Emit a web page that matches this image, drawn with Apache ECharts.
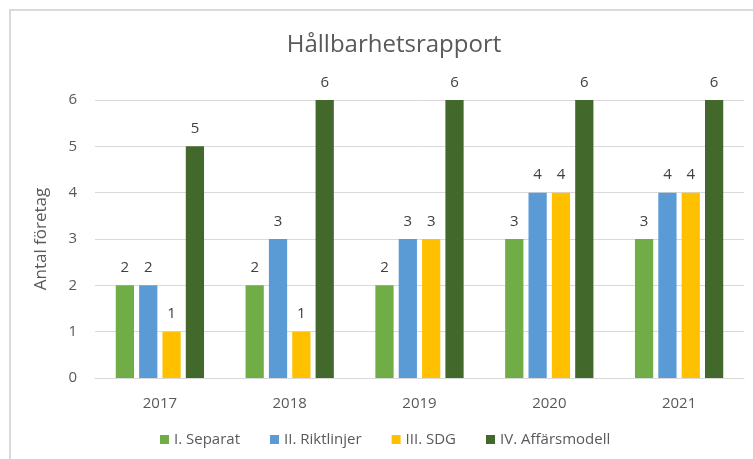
<!DOCTYPE html>
<html>
<head>
<meta charset="utf-8">
<script src="https://cdn.jsdelivr.net/npm/echarts@6/dist/echarts.min.js"></script>
<style>
  html, body { margin: 0; padding: 0; background: #fff; }
  #frame { position: absolute; left: 9px; top: 9px; width: 760px; height: 460px; border: 2px solid #d9d9d9; box-sizing: border-box; }
  #myChart { position: absolute; left: 0; top: 0; width: 753px; height: 459px; }
</style>
</head>
<body>
<div id="frame"></div>
<div id="myChart"></div>
<script>
var years = ['2017', '2018', '2019', '2020', '2021'];
var separat = [2, 2, 2, 3, 3];
var riktlinjer = [2, 3, 3, 4, 4];
var sdg = [1, 1, 3, 4, 4];
var affarsmodell = [5, 6, 6, 6, 6];
var seriesNames = ['I. Separat', 'II. Riktlinjer', 'III. SDG', 'IV. Affärsmodell'];

var myChart = echarts.init(document.getElementById('myChart'));
var font = 'Open Sans';

function bar(name, data) {
    return {
        name: name,
        type: 'bar',
        data: data,
        barGap: '28%',
        barCategoryGap: '32%',
        label: {
            show: true,
            position: 'top',
            distance: 10,
            color: '#404040',
            fontFamily: font,
            fontSize: 15
        }
    };
}

var option = {
    animation: false,
    color: ['#70AD47', '#5B9BD5', '#FFC000', '#43682B'],
    title: {
        text: 'Hållbarhetsrapport',
        left: 389,
        top: 28,
        textAlign: 'center',
        textStyle: { color: '#595959', fontFamily: font, fontSize: 24, fontWeight: 'normal' }
    },
    legend: {
        data: seriesNames,
        top: 427,
        left: 155,
        icon: 'rect',
        itemWidth: 9,
        itemHeight: 9,
        itemGap: 30,
        textStyle: { color: '#595959', fontFamily: font, fontSize: 15 }
    },
    grid: { left: 95, right: 9, top: 100, bottom: 81 },
    xAxis: {
        type: 'category',
        data: years,
        axisLine: { lineStyle: { color: '#d9d9d9', width: 1 } },
        axisTick: { show: false },
        axisLabel: { color: '#595959', fontFamily: font, fontSize: 15, margin: 18 }
    },
    yAxis: {
        type: 'value',
        min: 0,
        max: 6,
        interval: 1,
        name: 'Antal företag',
        nameLocation: 'middle',
        nameGap: 45,
        nameTextStyle: { color: '#595959', fontFamily: font, fontSize: 17 },
        axisLine: { show: false },
        axisTick: { show: false },
        axisLabel: { color: '#595959', fontFamily: font, fontSize: 15, margin: 18 },
        splitLine: { lineStyle: { color: '#d9d9d9', width: 1 } }
    },
    series: [
        bar(seriesNames[0], separat),
        bar(seriesNames[1], riktlinjer),
        bar(seriesNames[2], sdg),
        bar(seriesNames[3], affarsmodell)
    ]
};
myChart.setOption(option);

window.onresize = function() {
    myChart.resize();
};
</script>
</body>
</html>
